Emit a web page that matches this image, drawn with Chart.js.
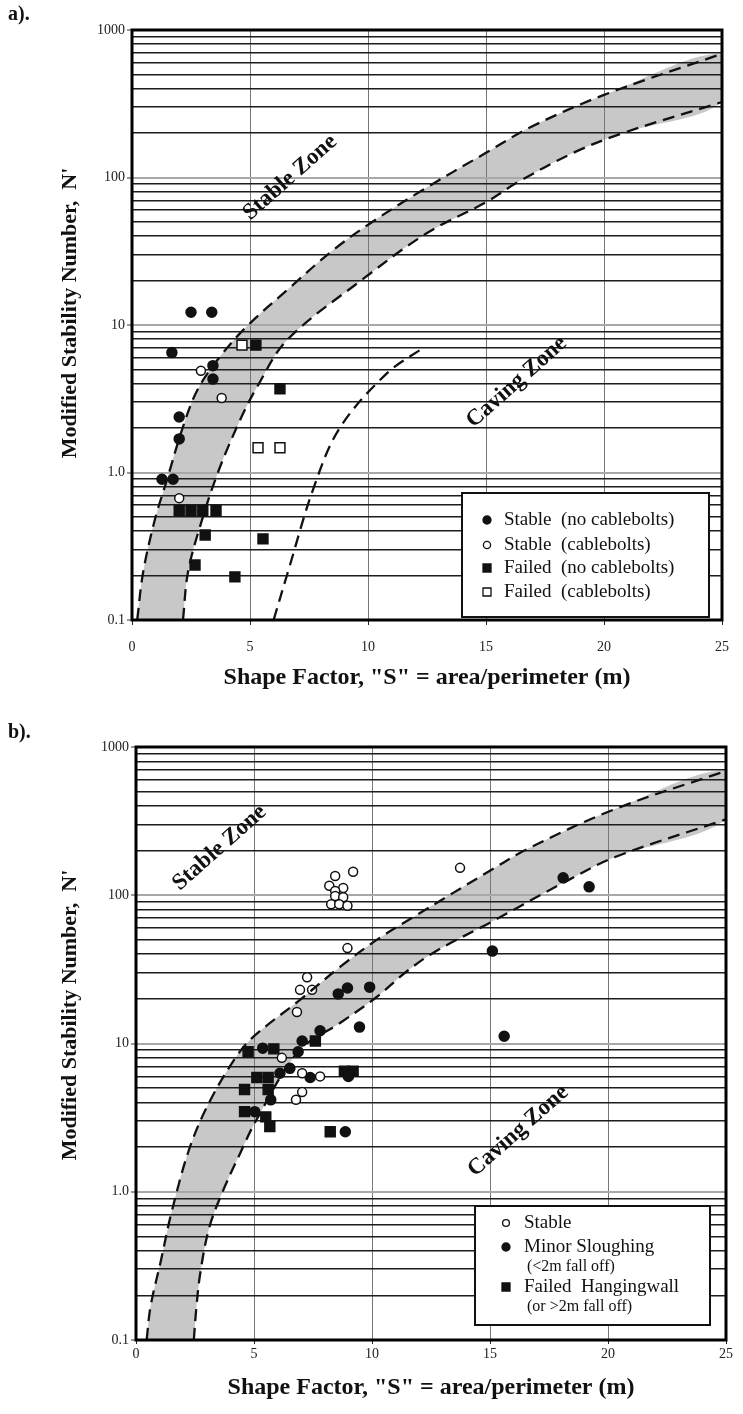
<!DOCTYPE html>
<html>
<head>
<meta charset="utf-8">
<script src="https://cdn.jsdelivr.net/npm/chart.js@4.4.1/dist/chart.umd.min.js"></script>
<style>
    body { margin: 0; background: #fff; }
    #wrap { position: relative; width: 743px; height: 1414px; }
    canvas { position: absolute; left: 0; }
    #panelA { top: 0; }
    #panelB { top: 705px; }
</style>
</head>
<body>
<div id="wrap">
    <canvas id="panelA" width="743" height="705" style="width:743px;height:705px"></canvas>
    <canvas id="panelB" width="743" height="709" style="width:743px;height:709px"></canvas>
</div>
<script>
// axes
const xTicks = [0, 5, 10, 15, 20, 25];
const yTickValues = [0.1, 1, 10, 100, 1000];
const yTickLabels = ['0.1', '1.0', '10', '100', '1000'];
const yGridValues = [0.1, 0.2, 0.3, 0.4, 0.5, 0.6, 0.7, 0.8, 0.9,
    1, 2, 3, 4, 5, 6, 7, 8, 9, 10, 20, 30, 40, 50, 60, 70, 80, 90,
    100, 200, 300, 400, 500, 600, 700, 800, 900, 1000];

// panel a) - [S, N']
const stableNoBoltsA = [[2.5, 12.2], [3.38, 12.2], [1.69, 6.5], [3.43, 5.3], [3.43, 4.3],
    [2.0, 2.38], [2.0, 1.69], [1.27, 0.9], [1.74, 0.9]];
const stableBoltsA = [[2.92, 4.9], [3.8, 3.2], [2.0, 0.67]];
const failedNoBoltsA = [[5.25, 7.3], [6.27, 3.7], [2.0, 0.55], [2.5, 0.55], [3.0, 0.55], [3.56, 0.55],
    [3.1, 0.377], [5.55, 0.355], [2.67, 0.236], [4.36, 0.196]];
const failedBoltsA = [[4.66, 7.3], [5.34, 1.47], [6.27, 1.47]];
const bandUpperA = [[0.22, 0.1], [0.47, 0.21], [0.97, 0.48], [1.48, 0.89], [2.16, 2.04], [2.8, 3.7],
    [3.8, 6.3], [4.87, 9.8], [6.7, 18], [8.5, 32], [10.1, 49], [12.3, 82], [15.0, 147], [16.9, 220],
    [20.0, 363], [25, 690]];
const bandLowerA = [[2.16, 0.1], [2.37, 0.21], [2.88, 0.43], [3.64, 1.0], [4.58, 2.27], [5.3, 3.8],
    [6.57, 7.9], [9.7, 20], [12.5, 42], [15.0, 68], [16.3, 92], [18.7, 147], [20.8, 200], [25, 325]];
const cavingLineA = [[6.0, 0.1], [6.6, 0.21], [7.7, 0.79], [8.8, 2.0], [10.8, 4.7], [12.4, 7.1]];
const legendLabelsA = ['Stable  (no cablebolts)', 'Stable  (cablebolts)', 'Failed  (no cablebolts)', 'Failed  (cablebolts)'];

// panel b)
const stableB = [[9.2, 144], [8.44, 135], [8.19, 116], [8.78, 112], [8.44, 107], [8.44, 99], [8.78, 97],
    [8.27, 87], [8.61, 87], [8.96, 85], [8.96, 44], [7.25, 28], [6.95, 23], [7.46, 23], [6.82, 16.3],
    [13.73, 153], [6.18, 8.0], [7.04, 6.3], [7.8, 6.0], [7.04, 4.7], [6.78, 4.17]];
const sloughingB = [[9.9, 24], [8.96, 23.7], [8.57, 21.6], [9.47, 12.9], [7.8, 12.2], [7.04, 10.4],
    [5.37, 9.3], [6.87, 8.8], [6.52, 6.8], [6.1, 6.3], [7.38, 5.9], [9.0, 6.0], [5.71, 4.17],
    [5.03, 3.47], [8.87, 2.54], [18.1, 131], [19.2, 114], [15.1, 42], [15.6, 11.2]];
const failedHwB = [[4.75, 8.8], [5.84, 9.2], [7.6, 10.4], [5.12, 5.9], [5.6, 5.9], [4.6, 4.9], [5.6, 4.9],
    [4.6, 3.47], [5.5, 3.2], [5.67, 2.75], [8.23, 2.54], [8.83, 6.5], [9.2, 6.5]];
const bandUpperB = [[0.45, 0.1], [0.62, 0.17], [1.05, 0.34], [1.5, 0.72], [2.26, 1.95], [3.1, 4.0],
    [4.26, 8.2], [5.0, 11.2], [6.95, 19.7], [8.66, 33], [10.2, 50], [11.8, 72], [15.05, 148],
    [16.5, 202], [20.2, 376], [25, 690]];
const bandLowerB = [[2.45, 0.1], [2.55, 0.16], [2.72, 0.28], [3.1, 0.57], [3.67, 1.0], [4.4, 1.8],
    [5.1, 3.05], [6.9, 8.9], [8.66, 13.8], [10.2, 20.6], [11.4, 30], [12.6, 41], [15.05, 66],
    [18.3, 126], [20.3, 181], [25, 325]];
const legendLabelsB = ['Stable', 'Minor Sloughing', '(<2m fall off)', 'Failed  Hangingwall', '(or >2m fall off)'];

const SERIF = "'Liberation Serif', 'Times New Roman', serif";
Chart.defaults.font.family = SERIF;
Chart.defaults.color = '#222';

const DASH = { borderColor: '#111', borderWidth: 2.3, borderDash: [12, 7], pointRadius: 0,
    fill: false, tension: 0.35, clip: 0 };

function toXY(pairs) {
    return pairs.map(p => ({ x: p[0], y: p[1] }));
}

function isDecade(v) {
    return yTickValues.indexOf(v) !== -1;
}

function bandDatasets(upper, lower) {
    return [
        { data: toXY(upper.concat(lower.slice().reverse())), borderWidth: 0, borderColor: 'rgba(0,0,0,0)',
          backgroundColor: '#c8c8c8', fill: 'shape', pointRadius: 0, tension: 0.35, clip: 0 },
        Object.assign({ data: toXY(upper) }, DASH),
        Object.assign({ data: toXY(lower) }, DASH)
    ];
}

function markers(pairs, style, filled, r) {
    return {
        data: toXY(pairs), showLine: false, pointStyle: style, pointRadius: r, pointHoverRadius: r,
        pointBackgroundColor: filled ? '#111' : '#fff', pointBorderColor: '#111', pointBorderWidth: 1.5
    };
}

// text, legend box and heavy frame
const decorations = {
    id: 'decorations',
    afterDraw(chart, args, o) {
        const ctx = chart.ctx, a = chart.chartArea;
        const xs = chart.scales.x, ys = chart.scales.y;
        ctx.save();
        ctx.fillStyle = '#111';
        ctx.strokeStyle = '#111';

        // zone labels
        ctx.font = 'bold 23px ' + SERIF;
        ctx.textAlign = 'center';
        ctx.textBaseline = 'middle';
        o.zones.forEach(z => {
            ctx.save();
            ctx.translate(xs.getPixelForValue(z.x), ys.getPixelForValue(z.y));
            ctx.rotate(-41.5 * Math.PI / 180);
            ctx.fillText(z.text, 0, 0);
            ctx.restore();
        });

        // legend
        const L = o.legend;
        ctx.fillStyle = '#fff';
        ctx.fillRect(L.box[0], L.box[1], L.box[2] - L.box[0], L.box[3] - L.box[1]);
        ctx.lineWidth = 2;
        ctx.strokeRect(L.box[0], L.box[1], L.box[2] - L.box[0], L.box[3] - L.box[1]);
        ctx.textAlign = 'left';
        L.rows.forEach(row => {
            ctx.fillStyle = '#111';
            if (row.sub) {
                ctx.font = '16px ' + SERIF;
                ctx.fillText(row.text, L.subX, row.y);
                return;
            }
            ctx.font = L.size + 'px ' + SERIF;
            ctx.fillText(row.text, L.textX, row.y);
            ctx.lineWidth = 1.3;
            ctx.beginPath();
            if (row.style === 'circle') {
                ctx.arc(L.markX, row.y, row.r, 0, Math.PI * 2);
            } else {
                ctx.rect(L.markX - row.r, row.y - row.r, row.r * 2, row.r * 2);
            }
            ctx.fillStyle = row.filled ? '#111' : '#fff';
            ctx.fill();
            ctx.stroke();
        });

        // frame
        ctx.lineWidth = 3;
        ctx.strokeStyle = '#000';
        ctx.strokeRect(a.left, a.top, a.right - a.left, a.bottom - a.top);

        // y title
        ctx.fillStyle = '#111';
        ctx.font = 'bold 22px ' + SERIF;
        ctx.textAlign = 'center';
        ctx.save();
        ctx.translate(o.yTitle[0], o.yTitle[1]);
        ctx.rotate(-Math.PI / 2);
        ctx.fillText("Modified Stability Number,  N'", 0, 0);
        ctx.restore();

        // panel letter
        ctx.font = 'bold 20px ' + SERIF;
        ctx.textAlign = 'left';
        ctx.fillText(o.panel, 8, o.panelY);
        ctx.restore();
    }
};

function makePanel(id, box, datasets, deco) {
    const canvas = document.getElementById(id);
    return new Chart(canvas, {
        type: 'line',
        data: { datasets: datasets },
        plugins: [decorations],
        options: {
            responsive: false,
            animation: false,
            events: [],
            layout: { padding: { left: 0, top: box.top, right: canvas.width - box.right, bottom: 0 } },
            plugins: {
                legend: { display: false },
                tooltip: { enabled: false },
                filler: { drawTime: 'beforeDraw' },
                decorations: deco
            },
            scales: {
                x: {
                    type: 'linear', min: 0, max: 25,
                    afterBuildTicks: s => { s.ticks = xTicks.map(v => ({ value: v })); },
                    afterFit: s => { s.height = canvas.height - box.bottom; },
                    ticks: { padding: box.xPad, font: { size: 14 }, maxRotation: 0, color: '#222' },
                    grid: {
                        color: c => (c.tick.value === 0 || c.tick.value === 25) ? 'rgba(0,0,0,0)' : '#777',
                        lineWidth: 1, tickLength: box.xTick, tickColor: '#222'
                    },
                    border: { display: false },
                    title: {
                        display: true, text: 'Shape Factor, "S" = area/perimeter (m)', color: '#111',
                        font: { size: 24, weight: 'bold' }, padding: { top: 0, bottom: box.titlePad }
                    }
                },
                y: {
                    type: 'logarithmic', min: 0.1, max: 1000,
                    afterBuildTicks: s => { s.ticks = yGridValues.map(v => ({ value: v })); },
                    afterFit: s => { s.width = box.left; },
                    ticks: {
                        autoSkip: false, padding: 2, font: { size: 14 }, color: '#222',
                        callback: v => isDecade(v) ? yTickLabels[yTickValues.indexOf(v)] : ''
                    },
                    grid: {
                        color: c => isDecade(c.tick.value) ? '#a8a8a8' : '#1c1c1c',
                        lineWidth: c => isDecade(c.tick.value) ? 2 : 1.6,
                        tickLength: 5,
                        tickColor: c => isDecade(c.tick.value) ? '#333' : 'rgba(0,0,0,0)',
                        tickWidth: 1
                    },
                    border: { display: false }
                }
            }
        }
    });
}

makePanel('panelA',
    { left: 132, right: 722, top: 30, bottom: 620, xPad: 14, xTick: 5, titlePad: 12.6 },
    bandDatasets(bandUpperA, bandLowerA).concat([
        Object.assign({ data: toXY(cavingLineA) }, DASH),
        markers(stableNoBoltsA, 'circle', true, 5),
        markers(stableBoltsA, 'circle', false, 4.5),
        markers(failedNoBoltsA, 'rect', true, 7),
        markers(failedBoltsA, 'rect', false, 7)
    ]),
    {
        panel: 'a).', panelY: 15, yTitle: [70, 313],
        zones: [{ text: 'Stable Zone', x: 6.7, y: 100 }, { text: 'Caving Zone', x: 16.3, y: 4.1 }],
        legend: {
            box: [462, 493, 709, 617], markX: 487, textX: 504, size: 19,
            rows: [
                { text: legendLabelsA[0], y: 520, style: 'circle', filled: true, r: 4 },
                { text: legendLabelsA[1], y: 545, style: 'circle', filled: false, r: 3.6 },
                { text: legendLabelsA[2], y: 568, style: 'rect', filled: true, r: 4 },
                { text: legendLabelsA[3], y: 592, style: 'rect', filled: false, r: 4 }
            ]
        }
    });

makePanel('panelB',
    { left: 136, right: 726, top: 42, bottom: 635, xPad: 2, xTick: 4, titlePad: 11.6 },
    bandDatasets(bandUpperB, bandLowerB).concat([
        markers(stableB, 'circle', false, 4.5),
        markers(sloughingB, 'circle', true, 5),
        markers(failedHwB, 'rect', true, 7)
    ]),
    {
        panel: 'b).', panelY: 28, yTitle: [70, 310],
        zones: [{ text: 'Stable Zone', x: 3.54, y: 209 }, { text: 'Caving Zone', x: 16.2, y: 2.57 }],
        legend: {
            box: [475, 501, 710, 620], markX: 506, textX: 524, subX: 527, size: 19,
            rows: [
                { text: legendLabelsB[0], y: 518, style: 'circle', filled: false, r: 3.4 },
                { text: legendLabelsB[1], y: 542, style: 'circle', filled: true, r: 4 },
                { text: legendLabelsB[2], y: 562, sub: true },
                { text: legendLabelsB[3], y: 582, style: 'rect', filled: true, r: 4 },
                { text: legendLabelsB[4], y: 602, sub: true }
            ]
        }
    });
</script>
</body>
</html>
